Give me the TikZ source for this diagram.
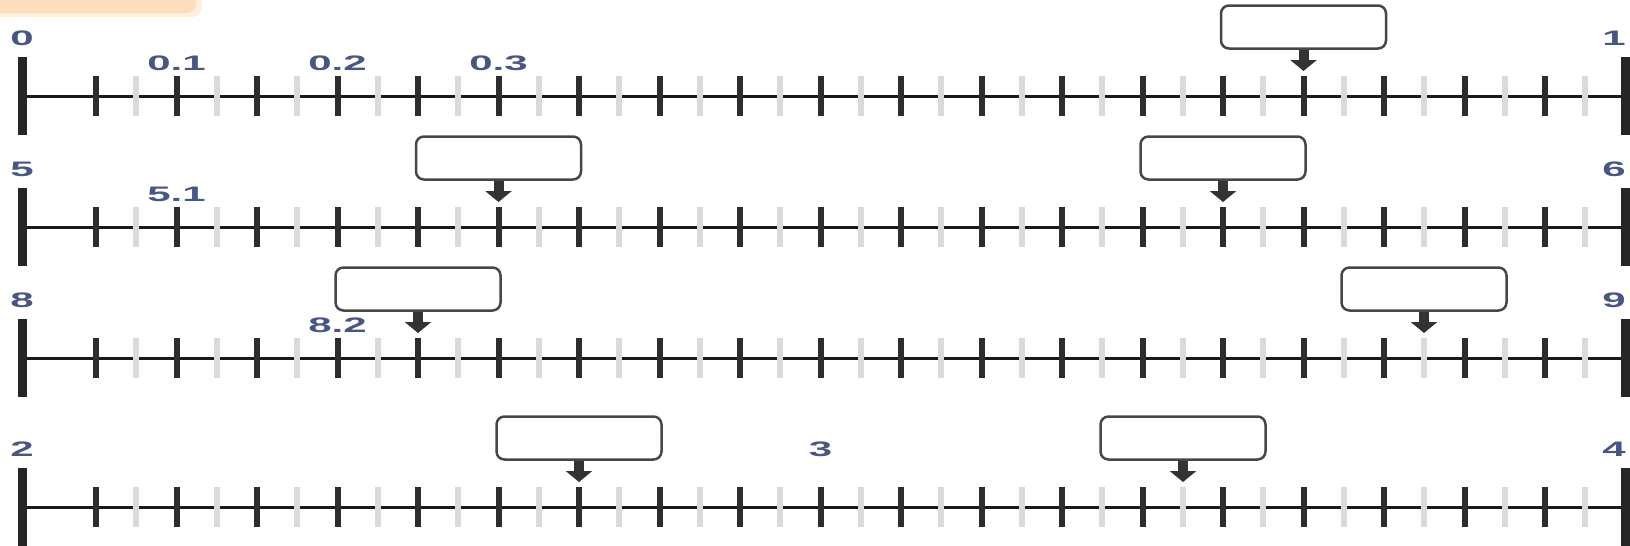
\documentclass[tikz,border=0pt]{standalone}
\usepackage{fontspec}
\setmainfont{Liberation Sans}
\usetikzlibrary{arrows.meta}
\definecolor{lblue}{RGB}{72,86,130}
\definecolor{tickdark}{RGB}{45,45,45}
\definecolor{ticklight}{RGB}{218,218,218}
\definecolor{peach}{RGB}{250,222,190}
\begin{document}
\begin{tikzpicture}[x=1pt,y=-1pt,
  axisline/.style={line width=3pt, black!90},
  darktick/.style={line width=6pt, tickdark},
  lighttick/.style={line width=6pt, ticklight},
  endbar/.style={line width=9pt, black!85},
  lbl/.style={text=lblue, font=\fontsize{21}{21}\selectfont\bfseries, inner sep=0pt},
  answerbox/.style={draw=black!72, line width=2.5pt, rounded corners=8pt, fill=white,
    minimum width=165pt, minimum height=43pt, inner sep=0pt},
  pointer/.style={line width=10pt, draw=black!80, -{Triangle[length=11pt,width=26pt]}}
]
\useasboundingbox (0,0) rectangle (1630,546);
\fill[white] (0,0) rectangle (1630,546);
% peach tab at top-left
\fill[peach!45, rounded corners=10pt] (-20,-20) rectangle (202,17);
\fill[peach, rounded corners=9pt] (-20,-20) rectangle (196,13);

\foreach \r/\yy/\lft/\rgt in {1/96/0/1, 2/227/5/6, 3/358/8/9, 4/507/2/4}{
  \draw[axisline] (22,\yy) -- (1625,\yy);
  \foreach \k in {1,...,19}
    \draw[lighttick] ({15.5+80.5*(\k+0.5)},{\yy-20}) -- ++(0,40);
  \foreach \k in {1,...,19}
    \draw[darktick] ({15.5+80.5*\k},{\yy-20}) -- ++(0,40);
  \draw[endbar] (22,{\yy-39}) -- (22,{\yy+39});
  \draw[endbar] (1625,{\yy-39}) -- (1625,{\yy+39});
  \node[lbl] (l\r) at (22,{\yy-58}) {\scalebox{2}[1]{\lft}};
  \node[lbl] (r\r) at (1614,{\yy-58}) {\scalebox{2}[1]{\rgt}};
}

% row 1 (0 .. 1)
\node[lbl] (a01) at (176.5,63) {\scalebox{2}[1]{0.1}};
\node[lbl] (a02) at (337.5,63) {\scalebox{2}[1]{0.2}};
\node[lbl] (a03) at (498.5,63) {\scalebox{2}[1]{0.3}};
\node[answerbox] (b1) at (1303.5,27) {};
\coordinate (p1) at (1303.5,71);
\draw[pointer] (b1.south) -- (p1);

% row 2 (5 .. 6)
\node[lbl] (a51) at (176.5,194) {\scalebox{2}[1]{5.1}};
\node[answerbox] (b2a) at (498.5,158) {};
\coordinate (p2a) at (498.5,202);
\draw[pointer] (b2a.south) -- (p2a);
\node[answerbox] (b2b) at (1223,158) {};
\coordinate (p2b) at (1223,202);
\draw[pointer] (b2b.south) -- (p2b);

% row 3 (8 .. 9)
\node[lbl] (a82) at (337.5,325) {\scalebox{2}[1]{8.2}};
\node[answerbox] (b3a) at (418,289) {};
\coordinate (p3a) at (418,333);
\draw[pointer] (b3a.south) -- (p3a);
\node[answerbox] (b3b) at (1424,289) {};
\coordinate (p3b) at (1424,333);
\draw[pointer] (b3b.south) -- (p3b);

% row 4 (2 .. 4)
\node[lbl] (a3) at (820.5,449) {\scalebox{2}[1]{3}};
\node[answerbox] (b4a) at (579,438) {};
\coordinate (p4a) at (579,482);
\draw[pointer] (b4a.south) -- (p4a);
\node[answerbox] (b4b) at (1183,438) {};
\coordinate (p4b) at (1183,482);
\draw[pointer] (b4b.south) -- (p4b);
\end{tikzpicture}
\end{document}
